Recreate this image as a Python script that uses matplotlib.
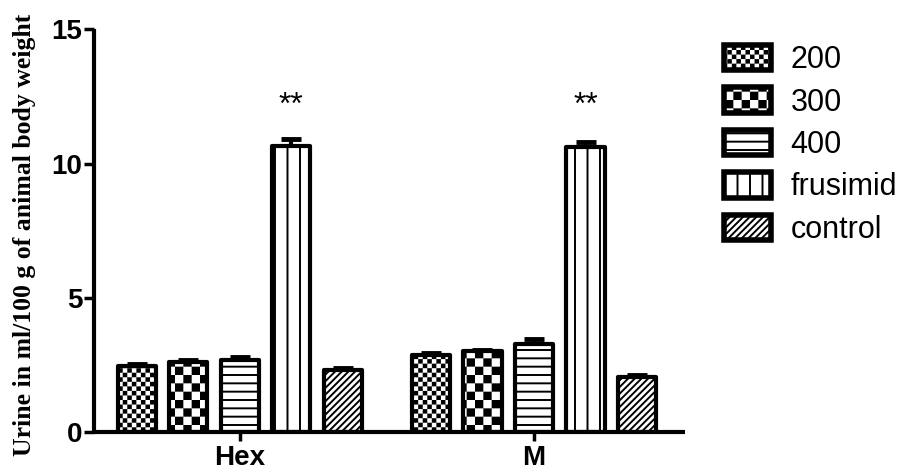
import numpy as np
import matplotlib
matplotlib.use("Agg")
import matplotlib.pyplot as plt
import matplotlib.hatch as mhatch
from matplotlib.path import Path

# ---------------- data ----------------
groups = ["Hex", "M"]
series = ["200", "300", "400", "frusimid", "control"]
values = {
    "200":      [2.45, 2.85],
    "300":      [2.61, 3.02],
    "400":      [2.69, 3.28],
    "frusimid": [10.65, 10.60],
    "control":  [2.30, 2.05],
}
errors = {
    "200":      [0.10, 0.10],
    "300":      [0.08, 0.05],
    "400":      [0.12, 0.17],
    "frusimid": [0.25, 0.20],
    "control":  [0.10, 0.07],
}
significance = {"frusimid": ["**", "**"]}
yticks = [0, 5, 10, 15]
ylabel = "Urine in ml/100 g of animal body weight"

# ---------------- custom hatch patterns ----------------
HATCH_LW = 1.4
_shrink = (HATCH_LW * 100 / 72) / 2 / 100.0


class _Checker(mhatch.HatchPatternBase):
    char = "o"
    n = 22

    def __init__(self, hatch, density):
        self.active = self.char in hatch
        self.cells = [(i, j) for i in range(self.n) for j in range(self.n)
                      if (i + j) % 2 == 0] if self.active else []
        self.num_vertices = len(self.cells) * 5

    def set_vertices_and_codes(self, vertices, codes):
        s = 1.0 / self.n
        d = _shrink
        k = 0
        for i, j in self.cells:
            x0, y0 = i * s + d, j * s + d
            x1, y1 = (i + 1) * s - d, (j + 1) * s - d
            vertices[k:k + 5] = [(x0, y0), (x1, y0), (x1, y1), (x0, y1), (x0, y0)]
            codes[k:k + 5] = [Path.MOVETO, Path.LINETO, Path.LINETO,
                              Path.LINETO, Path.CLOSEPOLY]
            k += 5


class FineChecker(_Checker):
    char = "o"
    n = 22


class CoarseChecker(_Checker):
    char = "O"
    n = 12


class _Lines(mhatch.HatchPatternBase):
    char = "-"
    n = 12

    def __init__(self, hatch, density):
        self.num_lines = self.n if self.char in hatch else 0
        self.num_vertices = (self.num_lines + 1) * 2 if self.num_lines else 0


class HLines(_Lines):
    char = "-"
    n = 12

    def set_vertices_and_codes(self, vertices, codes):
        steps = np.linspace(0.0, 1.0, self.num_lines + 1)
        vertices[0::2, 0] = 0.0
        vertices[0::2, 1] = steps
        vertices[1::2, 0] = 1.0
        vertices[1::2, 1] = steps
        codes[0::2] = Path.MOVETO
        codes[1::2] = Path.LINETO


class VLines(_Lines):
    char = "|"
    n = 8

    def set_vertices_and_codes(self, vertices, codes):
        steps = np.linspace(0.0, 1.0, self.num_lines + 1)
        vertices[0::2, 0] = steps
        vertices[0::2, 1] = 0.0
        vertices[1::2, 0] = steps
        vertices[1::2, 1] = 1.0
        codes[0::2] = Path.MOVETO
        codes[1::2] = Path.LINETO


class DiagLines(_Lines):
    char = "/"
    n = 30

    def set_vertices_and_codes(self, vertices, codes):
        steps = np.linspace(-0.5, 0.5, self.num_lines + 1)
        vertices[0::2, 0] = 0.0 + steps
        vertices[0::2, 1] = 0.0 - steps
        vertices[1::2, 0] = 1.0 + steps
        vertices[1::2, 1] = 1.0 - steps
        codes[0::2] = Path.MOVETO
        codes[1::2] = Path.LINETO


mhatch._hatch_types[:] = [FineChecker, CoarseChecker, HLines, VLines, DiagLines]

hatches = {"200": "o", "300": "O", "400": "-", "frusimid": "|", "control": "/"}

plt.rcParams["hatch.linewidth"] = HATCH_LW
plt.rcParams["hatch.color"] = "black"
plt.rcParams["font.family"] = ["Liberation Sans", "DejaVu Sans"]

# ---------------- figure ----------------
fig = plt.figure(figsize=(9.07, 4.73), dpi=100)
ax = fig.add_axes([0.1036, 0.0867, 0.6516, 0.8514])

group_x = np.array([0.0, 5.71])
offsets = np.arange(len(series)) - (len(series) - 1) / 2
bar_w = 0.74

for k, s in enumerate(series):
    xs = group_x + offsets[k]
    v = np.array(values[s])
    e = np.array(errors[s])
    ax.errorbar(xs, v, yerr=[np.zeros_like(e), e], fmt="none", ecolor="black",
                elinewidth=3.0, capsize=7, capthick=3.5, zorder=1)
    ax.bar(xs, v, width=bar_w, facecolor="white", edgecolor="black",
           linewidth=3.0, hatch=hatches[s], label=s, zorder=2,
           joinstyle="round")
    if s in significance:
        for x, txt in zip(xs, significance[s]):
            ax.text(x, 11.85, txt, ha="center", va="baseline", fontsize=23,
                    color="black")

ax.set_xlim(-2.83, 8.64)
ax.set_ylim(0, 15)
ax.set_yticks(yticks)
ax.set_xticks(group_x)
ax.set_xticklabels(groups)

for sp in ["top", "right"]:
    ax.spines[sp].set_visible(False)
for sp in ["left", "bottom"]:
    ax.spines[sp].set_linewidth(3)
    ax.spines[sp].set_capstyle("butt")

ax.tick_params(axis="y", length=7.5, width=2.5, pad=0.8, labelsize=20)
ax.tick_params(axis="x", length=6.5, width=2.5, pad=3.0, labelsize=20)
for lab in ax.get_xticklabels() + ax.get_yticklabels():
    lab.set_fontweight("bold")

ax.set_ylabel(ylabel, fontsize=18.5, fontweight="bold",
              family=["Liberation Serif", "DejaVu Serif"])
ax.yaxis.set_label_coords(-0.098, 0.49)

leg = ax.legend(loc="upper left", bbox_to_anchor=(0.7977, 0.905),
                bbox_transform=fig.transFigure, frameon=False, fontsize=22,
                handlelength=1.54, handleheight=0.9, handletextpad=0.65,
                labelspacing=0.4, borderaxespad=0, borderpad=0)
for p in leg.get_patches():
    p.set_linewidth(4.0)

fig.savefig("out.png", dpi=100)
